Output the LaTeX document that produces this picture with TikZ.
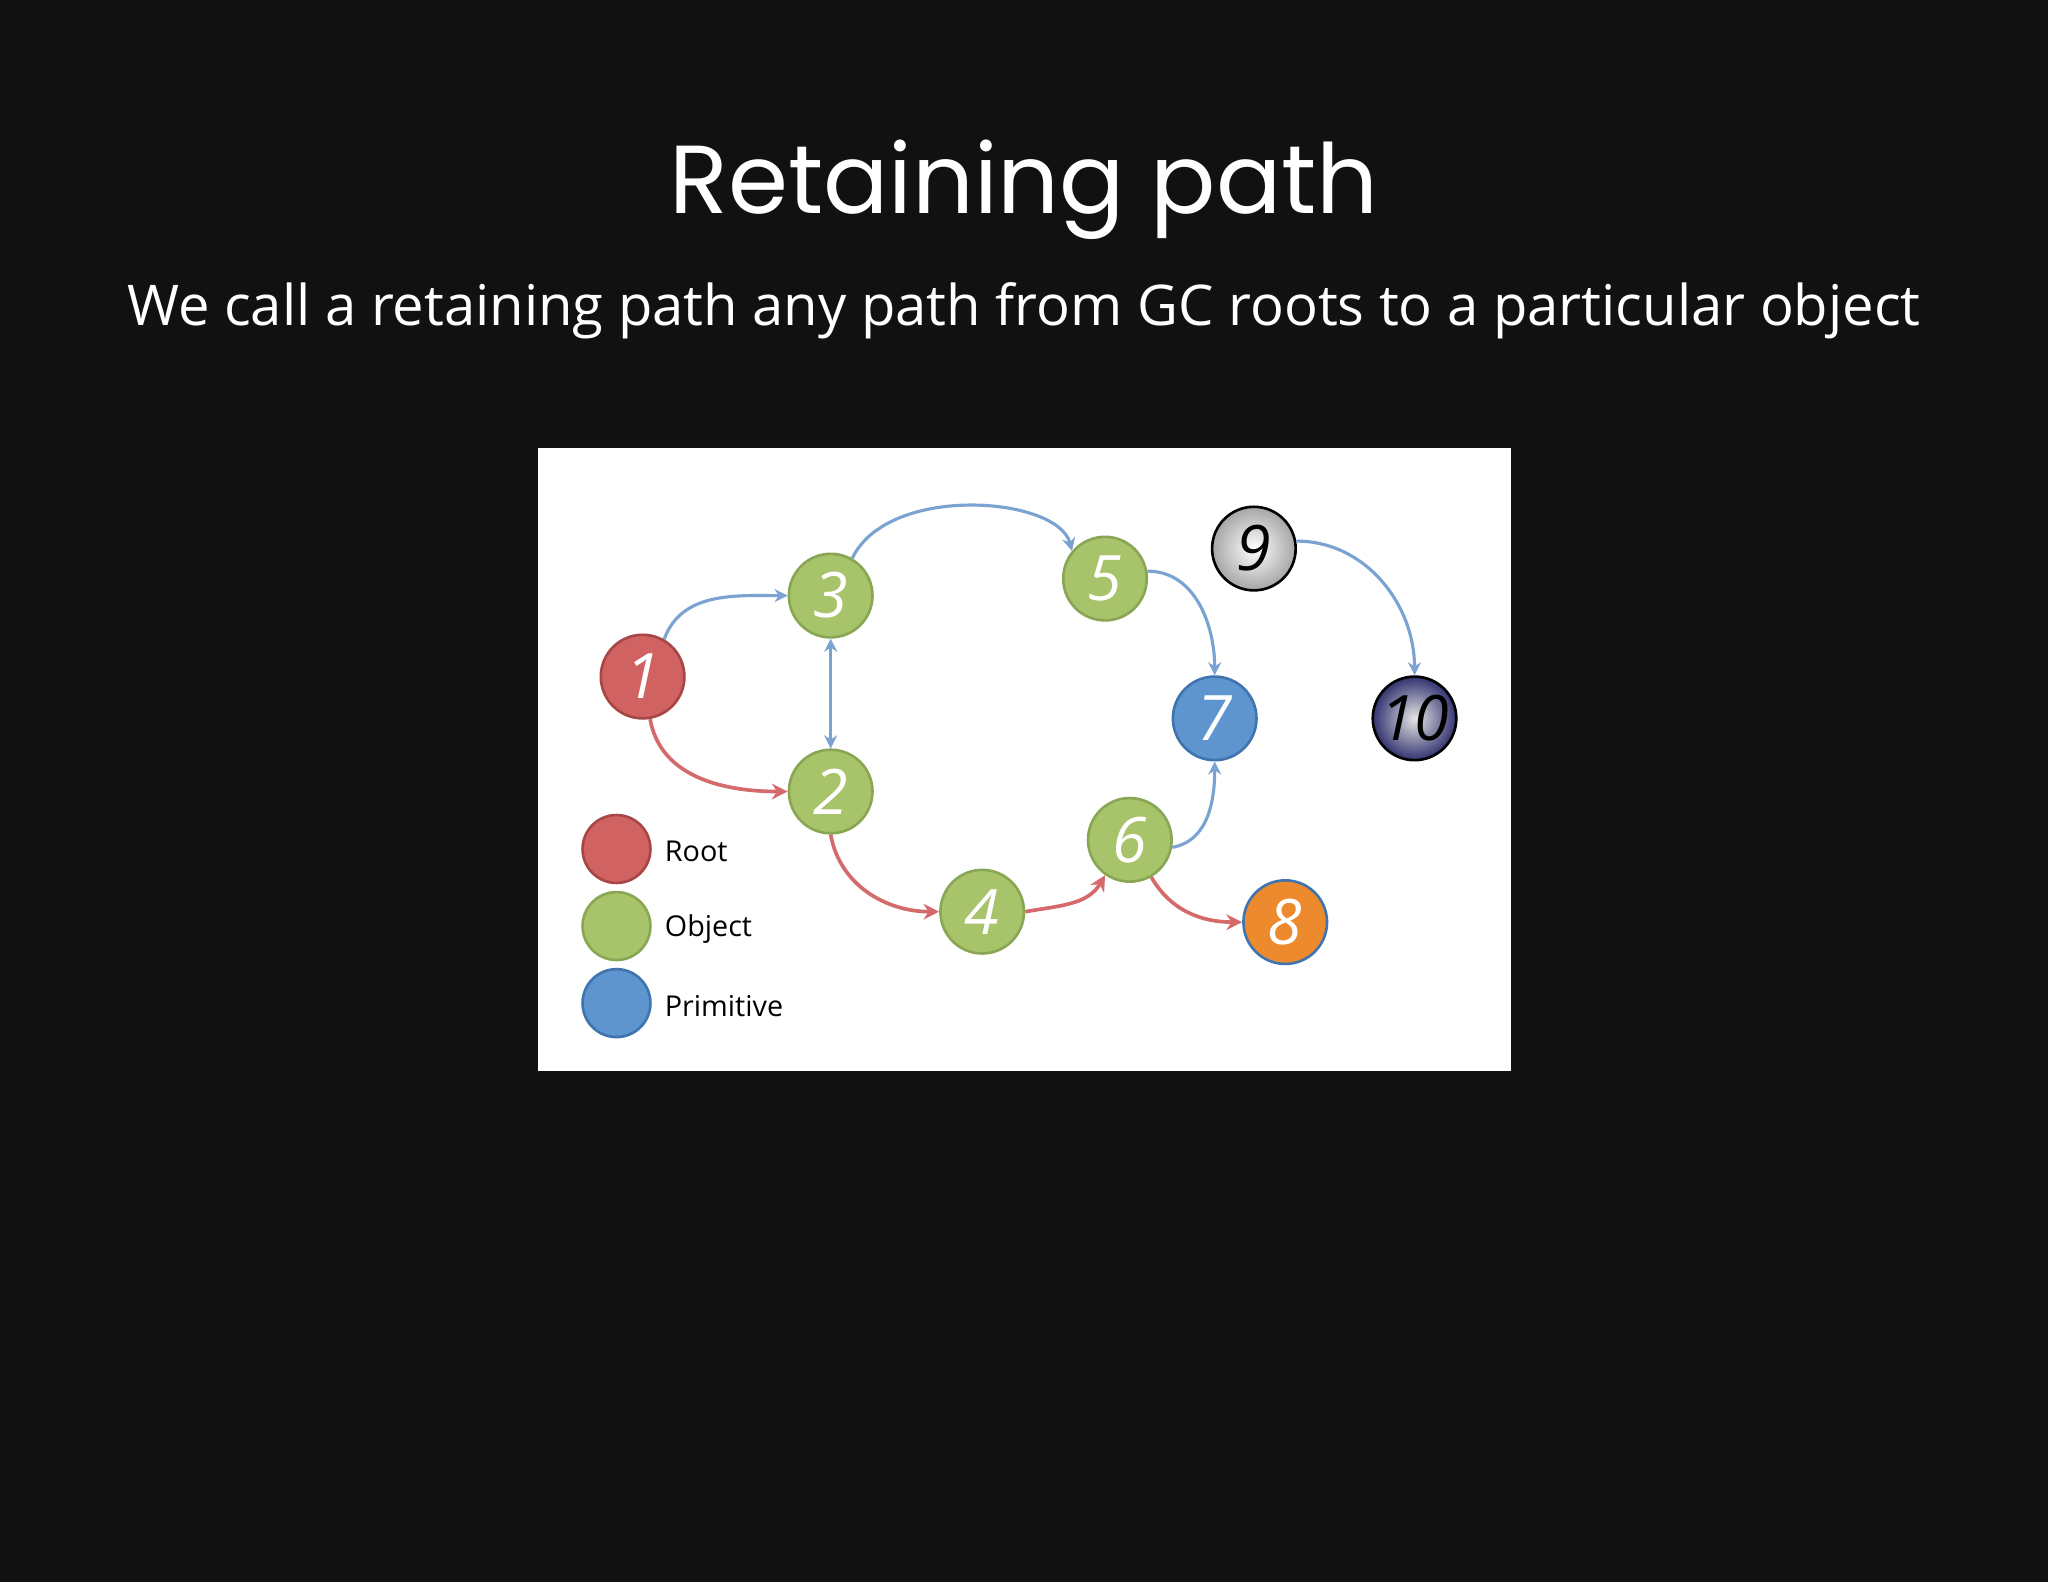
\documentclass[tikz,border=0pt]{standalone}
\usepackage{fontspec}
\setmainfont{Open Sans}
\newfontfamily\titlefont{Poppins}
\usetikzlibrary{arrows.meta}
\definecolor{bg}{HTML}{111112}
\definecolor{rootc}{HTML}{D06262}
\definecolor{rootd}{HTML}{A84646}
\definecolor{objc}{HTML}{A7C46B}
\definecolor{objd}{HTML}{88A654}
\definecolor{primc}{HTML}{5E95CE}
\definecolor{primd}{HTML}{3F74AE}
\definecolor{orc}{HTML}{EE8A2E}
\definecolor{ord}{HTML}{3F74AE}
\definecolor{barrow}{HTML}{7AA3D2}
\definecolor{rarrow}{HTML}{D46A6A}
\tikzset{
  ball/.style={circle,minimum size=32pt,inner sep=0pt,line width=1pt,text=white,font=\fontsize{24}{24}\selectfont\itshape\rmfamily},
  leg/.style={circle,minimum size=26pt,inner sep=0pt,line width=1pt},
  legtxt/.style={anchor=west,font=\fontsize{11}{13}\selectfont,text=black},
  ba/.style={draw=barrow,line width=1.2pt,-{Stealth[length=5pt,width=5pt]}},
  ra/.style={draw=rarrow,line width=1.4pt,-{Stealth[length=6pt,width=6pt]}},
}
\begin{document}
\begin{tikzpicture}[x=0.5pt,y=-0.5pt]
\fill[bg] (0,0) rectangle (1568,1211);
\useasboundingbox (0,0) rectangle (1568,1211);
\node[text=white,font=\titlefont\fontsize{37}{40}\selectfont] (title) at (784,145) {Retaining path};
\node[text=white,font=\fontsize{21.5}{24}\selectfont] (sub) at (784,238) {We call a retaining path any path from GC roots to a particular object};
\fill[white] (412,343) rectangle (1157,820);
\node[ball,fill=rootc,draw=rootd] (n1) at (492,518) {1};
\node[ball,fill=objc,draw=objd] (n3) at (636,456) {3};
\node[ball,fill=objc,draw=objd] (n2) at (636,606) {2};
\node[ball,fill=objc,draw=objd] (n5) at (846,443) {5};
\node[ball,fill=primc,draw=primd] (n7) at (930,550) {7};
\node[ball,fill=objc,draw=objd] (n6) at (865,643) {6};
\node[ball,fill=objc,draw=objd] (n4) at (752,698) {4};
\node[ball,fill=orc,draw=ord] (n8) at (984,706) {8};
\node[ball,inner color=white,outer color=gray!70,draw=black,text=black] (n9) at (960,420) {9};
\node[ball,inner color=gray!20,outer color=black!70!blue!80,draw=black,text=black] (n10) at (1083,550) {10};
\node[leg,fill=rootc,draw=rootd] (l1) at (472,650) {};
\node[leg,fill=objc,draw=objd] (l2) at (472,709) {};
\node[leg,fill=primc,draw=primd] (l3) at (472,768) {};
\node[legtxt] (t1) at (502,652) {Root};
\node[legtxt] (t2) at (502,711) {Object};
\node[legtxt] (t3) at (502,770) {Primitive};
\draw[ba] (n1.60) to[out=70,in=180] (n3.180);
\draw[ra] (n1.-80) to[out=-80,in=180] (n2.180);
\draw[ba,{Stealth[length=5pt,width=5pt]}-{Stealth[length=5pt,width=5pt]}] (n3) -- (n2);
\draw[ba] (n3.60) .. controls (680,370) and (810,380) .. (n5.140);
\draw[ba] (n5.10) to[out=0,in=90] (n7.90);
\draw[ra] (n2.-90) to[out=-80,in=180] (n4.180);
\draw[ra] (n4.0) to[out=10,in=240] (n6.235);
\draw[ba] (n6.-10) to[out=10,in=-90] (n7.-90);
\draw[ra] (n6.-60) to[out=-60,in=180] (n8.180);
\draw[ba] (n9.10) to[out=0,in=90] (n10.90);
\end{tikzpicture}
\end{document}
